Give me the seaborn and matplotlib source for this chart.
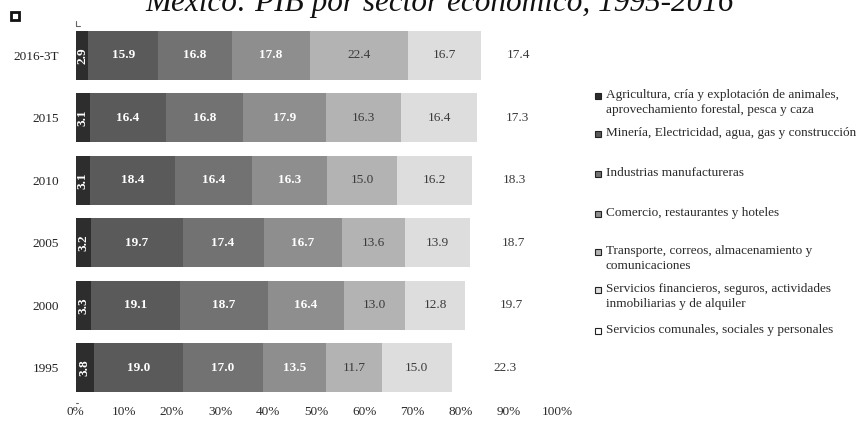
import matplotlib
matplotlib.use("Agg")
import matplotlib.pyplot as plt
from matplotlib.patches import Rectangle
from matplotlib.lines import Line2D
import numpy as np
import pandas as pd
import seaborn as sns

# Periods (top to bottom) and sector shares of GDP
years = ["2016-3T", "2015", "2010", "2005", "2000", "1995"]
agricultura = [2.9, 3.1, 3.1, 3.2, 3.3, 3.8]
mineria = [15.9, 16.4, 18.4, 19.7, 19.1, 19.0]
manufacturas = [16.8, 16.8, 16.4, 17.4, 18.7, 17.0]
comercio = [17.8, 17.9, 16.3, 16.7, 16.4, 13.5]
transporte = [22.4, 16.3, 15.0, 13.6, 13.0, 11.7]
financieros = [16.7, 16.4, 16.2, 13.9, 12.8, 15.0]
comunales = [17.4, 17.3, 18.3, 18.7, 19.7, 22.3]

sectors = [
    "Agricultura, cría y explotación de animales,\naprovechamiento forestal, pesca y caza",
    "Minería, Electricidad, agua, gas y construcción",
    "Industrias manufactureras",
    "Comercio, restaurantes y hoteles",
    "Transporte, correos, almacenamiento y\ncomunicaciones",
    "Servicios financieros, seguros, actividades\ninmobiliarias y de alquiler",
    "Servicios comunales, sociales y personales",
]
series = [agricultura, mineria, manufacturas, comercio, transporte, financieros, comunales]
colors = ["#2d2d2d", "#5a5a5a", "#727272", "#8e8e8e", "#b3b3b3", "#dddddd", "#ffffff"]
text_colors = ["white", "white", "white", "white", "#3a3a3a", "#3a3a3a", "#3a3a3a"]
bold = [True, True, True, True, False, False, False]

sns.set_theme(style="white")
plt.rcParams["font.family"] = ["Liberation Serif", "DejaVu Serif"]

vals = np.array(series, dtype=float)            # (sector, year)
shares = vals / vals.sum(axis=0) * 100          # 100% stacked
cum = np.cumsum(shares, axis=0)

W, H = 858, 424
fig = plt.figure(figsize=(W / 100, H / 100), dpi=100)
x0, x1, ytop, ybot = 75.7, 557, 24, 399
ax = fig.add_axes([x0 / W, 1 - ybot / H, (x1 - x0) / W, (ybot - ytop) / H])

# Stacked bars: draw cumulative totals from the outermost layer inward
for i in reversed(range(len(series))):
    df = pd.DataFrame({"year": years, "cum": cum[i]})
    sns.barplot(data=df, x="cum", y="year", orient="h", color=colors[i],
                saturation=1, width=0.78, linewidth=0, ax=ax)

# Segment value labels
for i in range(len(series)):
    for j, y in enumerate(years):
        center = cum[i, j] - shares[i, j] / 2
        ax.text(center, j, f"{series[i][j]:.1f}", ha="center", va="center",
                color=text_colors[i], fontsize=9.5,
                fontweight="bold" if bold[i] else "normal",
                rotation=90 if i == 0 else 0)

ax.set_xlim(0, 100)
ax.set_ylim(len(years) - 0.5, -0.5)
ax.set_xticks(np.arange(0, 101, 10))
ax.set_xticklabels([f"{t}%" for t in range(0, 101, 10)])
ax.set_xlabel("")
ax.set_ylabel("")
for s in ax.spines.values():
    s.set_visible(False)
ax.tick_params(axis="x", length=0, pad=5, labelsize=9.5, colors="#2a2a2a")
ax.tick_params(axis="y", length=0, pad=12, labelsize=9.5, colors="#222222")
ax.grid(False)

# Small corner marks at the ends of the category axis
fig.add_artist(Line2D([x0 / W, x0 / W], [1 - 21 / H, 1 - 26 / H], color="#666666", lw=0.8))
fig.add_artist(Line2D([x0 / W, (x0 + 4) / W], [1 - 26 / H, 1 - 26 / H], color="#666666", lw=0.8))
fig.add_artist(Line2D([x0 / W, (x0 + 2) / W], [1 - 403 / H, 1 - 403 / H], color="#666666", lw=0.8))

# Title (sits at the very top edge of the figure)
fig.text(440 / W, 1 - 11 / H, "México: PIB por sector económico, 1995-2016",
         ha="center", va="baseline", fontsize=22.5, style="italic", color="#111111")

# Hollow square at the top-left
fig.add_artist(Rectangle((11 / W, 1 - 20 / H), 8 / W, 8 / H, transform=fig.transFigure,
                         facecolor="white", edgecolor="#111111", lw=2))

# Legend
legend_y = [96, 134, 174, 214, 252, 290, 331]
for i, (lab, yy) in enumerate(zip(sectors, legend_y)):
    fig.add_artist(Rectangle((595 / W, 1 - (yy + 3) / H), 6 / W, 6 / H,
                             transform=fig.transFigure, facecolor=colors[i],
                             edgecolor="#222222", lw=0.8))
    fig.text(606 / W, 1 - (yy - 7) / H, lab, ha="left", va="top", fontsize=9.5,
             color="#2a2a2a", linespacing=1.3)

fig.savefig("out.png", dpi=100)
